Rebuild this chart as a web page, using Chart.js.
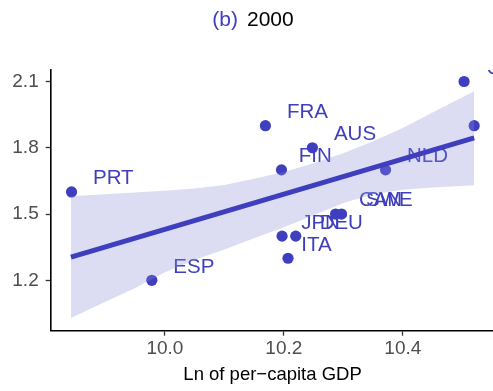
<!DOCTYPE html>
<html>
<head>
<meta charset="utf-8">
<script src="https://cdn.jsdelivr.net/npm/chart.js@4/dist/chart.umd.min.js"></script>
<style>
  html, body { margin: 0; padding: 0; background: #ffffff; overflow: hidden; }
  #wrap { position: relative; width: 500px; height: 391px; }
</style>
</head>
<body>
<div id="wrap"><canvas id="c"></canvas></div>
<script>
// ---- data ----
const panelTag = '(b)';
const panelYear = '2000';
const xTitle = 'Ln of per\u2212capita GDP';

const countries = ['PRT', 'ESP', 'FRA', 'FIN', 'AUS', 'JPN', 'DEU', 'ITA', 'CAN', 'SWE', 'NLD', 'USA', 'NOR'];
const lnGdp     = [9.843, 9.978, 10.169, 10.196, 10.248, 10.197, 10.220, 10.207, 10.287, 10.297, 10.371, 10.503, 10.520];
const score     = [1.6, 1.2, 1.9, 1.7, 1.8, 1.4, 1.4, 1.3, 1.5, 1.5, 1.7, 2.1, 1.9];
const labelGdp  = [9.843, 9.978, 10.169, 10.189, 10.248, 10.193, 10.224, 10.193, 10.290, 10.302, 10.371, 10.504, 10.520];

const fitX = [9.842, 10.520];
const fitY = [1.305, 1.845];

const bandX     = [9.842, 9.90, 9.95, 10.00, 10.05, 10.10, 10.15, 10.20, 10.25, 10.30, 10.35, 10.40, 10.45, 10.520];
const bandUpper = [1.580, 1.590, 1.598, 1.606, 1.616, 1.632, 1.660, 1.690, 1.730, 1.775, 1.830, 1.890, 1.960, 2.056];
const bandLower = [1.030, 1.103, 1.165, 1.237, 1.293, 1.340, 1.390, 1.440, 1.495, 1.550, 1.590, 1.610, 1.620, 1.630];

const xTicks = [10.0, 10.2, 10.4];
const yTicks = [1.2, 1.5, 1.8, 2.1];
const xRange = [9.808, 10.554];
const yRange = [0.972, 2.152];

// ---- styles ----
const BLUE = 'rgb(62,62,190)';
const BAND = 'rgba(140,140,215,0.30)';
const FONT = '"Liberation Sans", Arial, Helvetica, sans-serif';

const pts = lnGdp.map((x, i) => ({ x: x, y: score[i] }));
const fitPts = fitX.map((x, i) => ({ x: x, y: fitY[i] }));
const upPts = bandX.map((x, i) => ({ x: x, y: bandUpper[i] }));
const loPts = bandX.map((x, i) => ({ x: x, y: bandLower[i] }));

const pointLabels = {
  id: 'pointLabels',
  afterDatasetDraw(chart, args) {
    if (args.index !== 0) return;
    const { ctx, chartArea, scales } = chart;
    ctx.save();
    ctx.beginPath();
    ctx.rect(chartArea.left, chartArea.top, chartArea.right - chartArea.left, chartArea.bottom - chartArea.top);
    ctx.clip();
    ctx.font = '20.5px ' + FONT;
    ctx.fillStyle = BLUE;
    ctx.textAlign = 'left';
    ctx.textBaseline = 'alphabetic';
    countries.forEach((name, i) => {
      const px = scales.x.getPixelForValue(labelGdp[i]) + 21.5;
      const py = scales.y.getPixelForValue(score[i]) - 7.6;
      ctx.fillText(name, px, py);
    });
    ctx.restore();
  }
};

const panelTitle = {
  id: 'panelTitle',
  afterDraw(chart) {
    const ctx = chart.ctx;
    ctx.save();
    ctx.font = '21px ' + FONT;
    ctx.textBaseline = 'alphabetic';
    ctx.textAlign = 'left';
    const gap = 9;
    const w1 = ctx.measureText(panelTag).width;
    const w2 = ctx.measureText(panelYear).width;
    const cx = 253;
    const x0 = cx - (w1 + gap + w2) / 2;
    ctx.fillStyle = BLUE;
    ctx.fillText(panelTag, x0, 26);
    ctx.fillStyle = '#000000';
    ctx.fillText(panelYear, x0 + w1 + gap, 26);
    ctx.restore();
  }
};

new Chart(document.getElementById('c'), {
  type: 'scatter',
  data: {
    datasets: [
      {
        label: 'countries',
        data: pts,
        order: 3,
        pointRadius: 5.6,
        pointHoverRadius: 5.6,
        pointBorderWidth: 0,
        backgroundColor: BLUE,
        borderColor: BLUE
      },
      {
        label: 'lower',
        type: 'line',
        data: loPts,
        order: 2,
        borderWidth: 0,
        pointRadius: 0,
        fill: false,
        tension: 0
      },
      {
        label: 'upper',
        type: 'line',
        data: upPts,
        order: 1,
        borderWidth: 0,
        pointRadius: 0,
        backgroundColor: BAND,
        fill: '-1',
        tension: 0
      },
      {
        label: 'fit',
        type: 'line',
        data: fitPts,
        order: 0,
        borderColor: BLUE,
        borderWidth: 5,
        borderCapStyle: 'butt',
        pointRadius: 0,
        fill: false,
        tension: 0
      }
    ]
  },
  options: {
    responsive: true,
    maintainAspectRatio: false,
    animation: false,
    events: [],
    layout: { padding: { top: 70, right: 4, left: 0, bottom: 0 } },
    plugins: {
      legend: { display: false },
      tooltip: { enabled: false },
      title: { display: false }
    },
    scales: {
      x: {
        type: 'linear',
        min: xRange[0],
        max: xRange[1],
        afterBuildTicks(scale) { scale.ticks = xTicks.map(v => ({ value: v })); },
        afterFit(scale) {
          scale.height = 60.3;
          scale.paddingLeft = 0; scale.paddingRight = 0;
        },
        grid: {
          display: true, drawOnChartArea: false, drawTicks: true,
          tickLength: 5, color: '#333333', tickColor: '#333333', tickWidth: 1.3
        },
        border: { display: true, color: '#000000', width: 1.6 },
        ticks: {
          padding: 1.5,
          color: '#4D4D4D',
          font: { family: FONT, size: 19 },
          maxRotation: 0,
          callback: v => Number(v).toFixed(1)
        },
        title: {
          display: true,
          text: xTitle,
          color: '#000000',
          font: { family: FONT, size: 18.5 },
          padding: { top: 0, bottom: 5 }
        }
      },
      y: {
        type: 'linear',
        min: yRange[0],
        max: yRange[1],
        afterBuildTicks(scale) { scale.ticks = yTicks.map(v => ({ value: v })); },
        afterFit(scale) {
          scale.width = 50.7;
          scale.paddingTop = 0; scale.paddingBottom = 0;
        },
        grid: {
          display: true, drawOnChartArea: false, drawTicks: true,
          tickLength: 5, color: '#333333', tickColor: '#333333', tickWidth: 1.3
        },
        border: { display: true, color: '#000000', width: 1.6 },
        ticks: {
          padding: 7,
          color: '#4D4D4D',
          font: { family: FONT, size: 19 },
          callback: v => Number(v).toFixed(1)
        }
      }
    }
  },
  plugins: [pointLabels, panelTitle]
});
</script>
</body>
</html>
